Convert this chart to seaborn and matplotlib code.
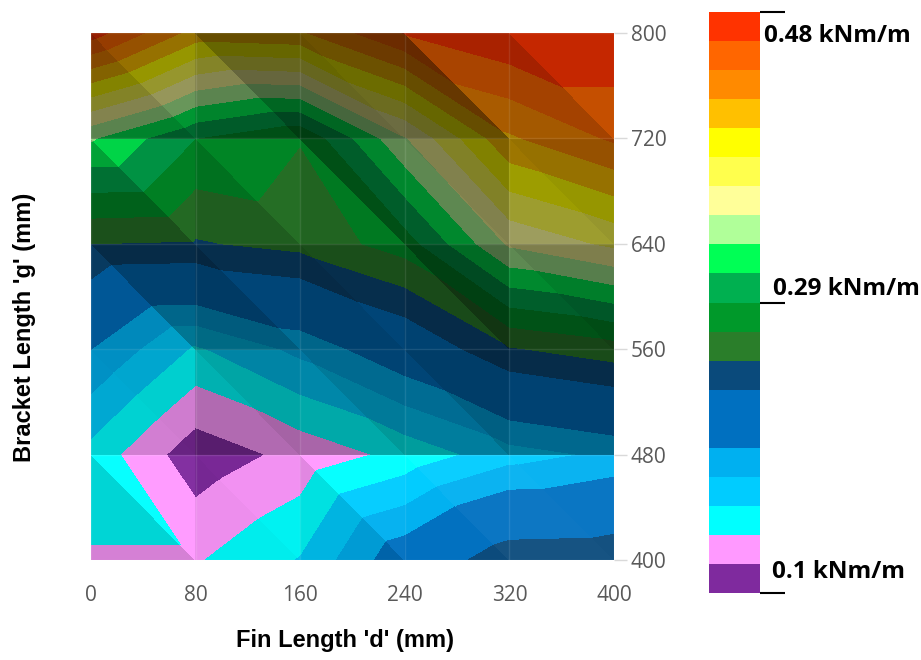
import numpy as np
import matplotlib
matplotlib.use('Agg')
import matplotlib.pyplot as plt
import matplotlib.tri as mtri
from matplotlib.colors import ListedColormap, BoundaryNorm, to_rgb
import seaborn as sns

# grid of the surface
fin_length = [0, 80, 160, 240, 320, 400]          # d (mm)
bracket_length = [400, 480, 560, 640, 720, 800]   # g (mm)

# moment capacity (kNm/m) along fin length, one row per bracket length
moment_g400 = [0.136, 0.136, 0.158, 0.210, 0.248, 0.250]
moment_g480 = [0.150, 0.107, 0.125, 0.144, 0.168, 0.180]
moment_g560 = [0.195, 0.154, 0.181, 0.212, 0.250, 0.262]
moment_g640 = [0.252, 0.250, 0.258, 0.280, 0.350, 0.370]
moment_g720 = [0.330, 0.290, 0.272, 0.345, 0.420, 0.445]
moment_g800 = [0.470, 0.415, 0.420, 0.462, 0.478, 0.478]

# colour bands of the legend, bottom to top
band_colors = ['#7F2A9E', '#FF99FF', '#00FFFF', '#00CCFF', '#00B0F0',
               '#0070C0', '#0070C0', '#0A4A7B', '#2A7E2A', '#00992A',
               '#00B050', '#00FF55', '#B0FF99', '#FFFF99', '#FFFF4D',
               '#FFFF00', '#FFC000', '#FF8A00', '#FF6600', '#FF3300']
band_edges = np.linspace(0.10, 0.48, 21)
cbar_ticks = [0.1, 0.29, 0.48]
cbar_labels = ['0.1 kNm/m', '0.29 kNm/m', '0.48 kNm/m']

sns.set_theme(style='white')
plt.rcParams['font.family'] = ['Liberation Sans', 'DejaVu Sans']

X, Y = np.meshgrid(fin_length, bracket_length)
Z = np.array([moment_g400, moment_g480, moment_g560,
              moment_g640, moment_g720, moment_g800])

# split every cell along the top-left / bottom-right diagonal
nx, ny = len(fin_length), len(bracket_length)
tris = []
for j in range(ny - 1):
    for i in range(nx - 1):
        a = j * nx + i
        tris.append([a, a + 1, a + nx])
        tris.append([a + 1, a + nx + 1, a + nx])
tris = np.array(tris)
xs, ys, zs = X.ravel().astype(float), Y.ravel().astype(float), Z.ravel()
tri = mtri.Triangulation(xs, ys, tris)

fig = plt.figure(figsize=(9.21, 6.6), dpi=100)
ax = fig.add_axes([91 / 921, 1 - 560 / 660, 523 / 921, 527 / 660])

cmap = ListedColormap(band_colors)
norm = BoundaryNorm(band_edges, cmap.N)
cs = ax.tricontourf(tri, zs, levels=band_edges, cmap=cmap, norm=norm)

# fake 3D lighting: each face is shaded by its slope
p0 = tris[:, 0]
M = np.stack([np.stack([xs[tris[:, 1]] - xs[p0], ys[tris[:, 1]] - ys[p0]], -1),
              np.stack([xs[tris[:, 2]] - xs[p0], ys[tris[:, 2]] - ys[p0]], -1)], 1)
rhs = np.stack([zs[tris[:, 1]] - zs[p0], zs[tris[:, 2]] - zs[p0]], -1)[..., None]
grad = np.linalg.solve(M, rhs)[..., 0] * 80
light = np.clip(0.88 - 2.0 * grad[:, 0] - 3.2 * grad[:, 1], 0.4, 1.1)

base_rgb = np.array([to_rgb(c) for c in band_colors])
for k, lk in enumerate(light):
    if lk < 1:
        rgb = base_rgb * lk
    else:
        rgb = base_rgb + (1 - base_rgb) * (lk - 1) * 0.5
    face = mtri.Triangulation(xs, ys, tris[k:k + 1])
    ax.tricontourf(face, zs, levels=band_edges,
                   cmap=ListedColormap(np.clip(rgb, 0, 1)), norm=norm)

ax.set_xlim(0, 400)
ax.set_ylim(400, 800)
ax.set_xticks(fin_length)
ax.set_yticks(bracket_length)
ax.yaxis.tick_right()
ax.tick_params(axis='both', length=9, width=1, color='#D9D9D9',
               labelcolor='#595959', labelsize=15)
ax.tick_params(axis='x', pad=9)
ax.tick_params(axis='y', pad=3)
for lab in ax.get_xticklabels() + ax.get_yticklabels():
    lab.set_fontfamily('Open Sans')
ax.grid(True, color='white', alpha=0.1, lw=1)
ax.set_axisbelow(False)
sns.despine(ax=ax, left=True, bottom=True)

ax.set_xlabel("Fin Length 'd' (mm)", fontsize=17, fontweight='bold', color='black')
ax.xaxis.set_label_coords((345 - 91) / 523, (560 - 641) / 527)
ax.xaxis.label.set_va('center')
ax.set_ylabel("Bracket Length 'g' (mm)", fontsize=17, fontweight='bold', color='black')
ax.yaxis.set_label_position('left')
ax.yaxis.set_label_coords((25 - 91) / 523, (560 - 327) / 527)
ax.yaxis.label.set_va('center')

# legend bar
cax = fig.add_axes([709 / 921, 1 - 593 / 660, 51 / 921, 581 / 660])
cb = fig.colorbar(cs, cax=cax)
cb.outline.set_visible(False)
cb.set_ticks(cbar_ticks)
cb.set_ticklabels(['', '', ''])
cax.minorticks_off()
cax.tick_params(length=18, width=1.5, color='black', direction='out', right=True)
offsets = [(8.5, 15), (9, 10), (3, -17.5)]
for val, lab, (dx, dy) in zip(cbar_ticks, cbar_labels, offsets):
    cax.annotate(lab, xy=(1, val), xycoords=cax.get_yaxis_transform(),
                 xytext=(dx, dy), textcoords='offset points', ha='left', va='center',
                 fontsize=17.5, fontweight='bold', color='black', family='Open Sans',
                 annotation_clip=False)

fig.savefig('out.png', dpi=100)
